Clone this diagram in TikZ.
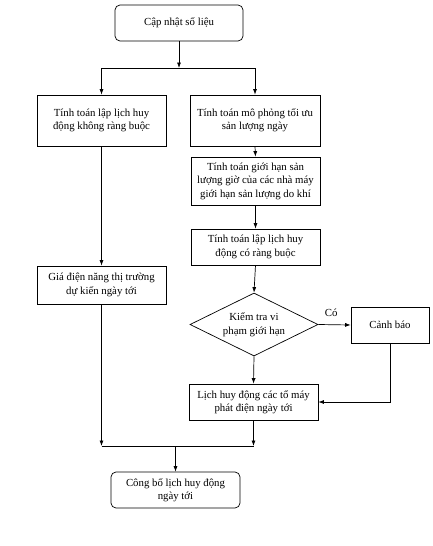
\documentclass[tikz,border=0pt]{standalone}
\usepackage{fontspec}
\setmainfont{Liberation Serif}
\usetikzlibrary{arrows.meta,shapes.geometric}

\begin{document}
\begin{tikzpicture}[x=1pt,y=-1pt,
  procbox/.style={draw=black, line width=0.7pt, align=center, inner sep=1pt, font=\fontsize{10.8}{13.5}\selectfont},
  termbox/.style={procbox, rounded corners=5pt},
  decbox/.style={draw=black, line width=0.7pt, diamond, aspect=2, inner sep=0pt, align=center, font=\fontsize{10.8}{13.5}\selectfont},
  arr/.style={black, line width=0.7pt, -{Latex[length=5.5pt, width=4pt]}}]
\useasboundingbox (0,0) rectangle (433,546);
\node[termbox, minimum width=128, minimum height=36] (upd) at (179,23) {Cập nhật số liệu};
\node[procbox, minimum width=129, minimum height=51] (free) at (101.5,120.5) {Tính toán lập lịch huy\\động không ràng buộc};
\node[procbox, minimum width=130, minimum height=51] (sim) at (255,120.5) {Tính toán mô phỏng tối ưu\\sản lượng ngày};
\node[procbox, minimum width=129, minimum height=48] (lim) at (255.5,181) {Tính toán giới hạn sản\\lượng giờ của các nhà máy\\giới hạn sản lượng do khí};
\node[procbox, minimum width=129, minimum height=36] (con) at (255.5,247) {Tính toán lập lịch huy\\động có ràng buộc};
\node[decbox, minimum width=128, minimum height=63] (chk) at (254,324.5) {Kiểm tra vi\\phạm giới hạn};
\node[procbox, minimum width=78, minimum height=36] (warn) at (390,325) {Cảnh báo};
\node[procbox, minimum width=129, minimum height=36] (sched) at (253.5,402) {Lịch huy động các tổ máy\\phát điện ngày tới};
\node[procbox, minimum width=129, minimum height=38] (price) at (101.5,285) {Giá điện năng thị trường\\dự kiến ngày tới};
\node[termbox, minimum width=129, minimum height=36] (pub) at (175.5,490) {Công bố lịch huy động\\ngày tới};
\coordinate (fork) at (179,68);
\coordinate (join) at (175.5,446);
% top split
\draw[arr] (upd.south) -- (fork);
\draw[arr] (fork) -| (free.north);
\draw[arr] (fork) -| (sim.north);
% left branch
\draw[arr] (free.south) -- (price.north);
% right branch
\draw[arr] (sim.south) -- (lim.north);
\draw[arr] (lim.south) -- (con.north);
\draw[arr] (con.south) -- (chk.north);
\draw[arr] (chk.east) -- node[above, font=\fontsize{10.8}{13}\selectfont, pos=0.4, yshift=4pt] {Có} (warn.west);
\draw[arr] (chk.south) -- (sched.north);
\draw[arr] (warn.south) |- (sched.east);
% merge
\draw[arr] (price.south) -- (price.south |- join);
\draw[arr] (sched.south) -- (sched.south |- join);
\draw[line width=0.7pt] (price.south |- join) -- (sched.south |- join);
\draw[arr] (join) -- (pub.north);
\end{tikzpicture}
\end{document}
